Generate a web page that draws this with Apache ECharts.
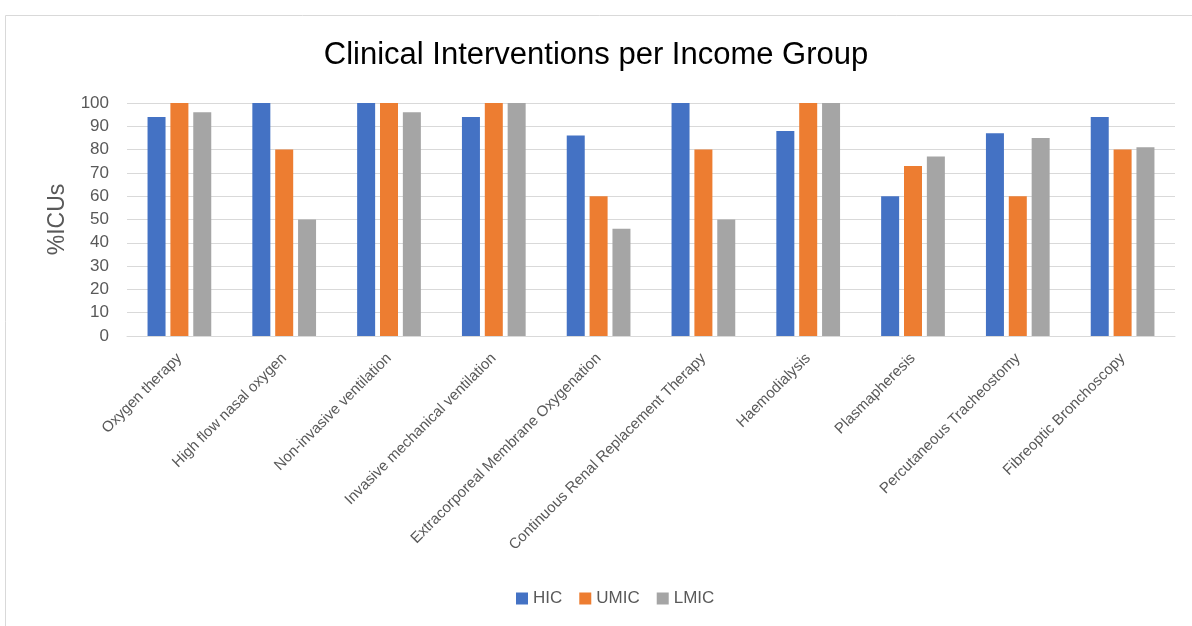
<!DOCTYPE html>
<html>
<head>
<meta charset="utf-8">
<script src="https://cdn.jsdelivr.net/npm/echarts@6/dist/echarts.min.js"></script>
<style>
  html, body { margin: 0; padding: 0; background: #ffffff; }
  #chart { width: 1192px; height: 626px; }
</style>
</head>
<body>
<div id="chart"></div>
<script>
const categories = [
  "Oxygen therapy",
  "High flow nasal oxygen",
  "Non-invasive ventilation",
  "Invasive mechanical ventilation",
  "Extracorporeal Membrane Oxygenation",
  "Continuous Renal Replacement Therapy",
  "Haemodialysis",
  "Plasmapheresis",
  "Percutaneous Tracheostomy",
  "Fibreoptic Bronchoscopy"
];
const seriesNames = ["HIC", "UMIC", "LMIC"];
const hic  = [94, 100, 100, 94, 86, 100, 88, 60, 87, 94];
const umic = [100, 80, 100, 100, 60, 80, 100, 73, 60, 80];
const lmic = [96, 50, 96, 100, 46, 50, 100, 77, 85, 81];
const colors = ["#4472C4", "#ED7D31", "#A5A5A5"];

const font = "'Liberation Sans', Arial, sans-serif";
const chart = echarts.init(document.getElementById('chart'), null, { renderer: 'canvas' });
const mk = (name, data, color) => ({
  name, type: 'bar', data, barWidth: 18, barGap: '27%',
  itemStyle: { color }
});
chart.setOption({
  animation: false,
  graphic: [{
    type: 'rect', left: 3, top: 13,
    shape: { width: 1200, height: 700 },
    style: { fill: 'none', stroke: '#d9d9d9', lineWidth: 1 },
    silent: true, z: -1
  }],
  title: {
    text: 'Clinical Interventions per Income Group',
    left: 'center', top: 35,
    textStyle: { fontFamily: font, fontSize: 31, fontWeight: 'normal', color: '#000000' }
  },
  legend: {
    data: seriesNames, bottom: 14, left: 511,
    itemWidth: 12, itemHeight: 12, itemGap: 17,
    icon: 'rect',
    textStyle: { fontFamily: font, fontSize: 17, color: '#595959' }
  },
  grid: { left: 127, right: 17, top: 103, bottom: 290, containLabel: false },
  xAxis: {
    type: 'category', data: categories,
    axisLine: { lineStyle: { color: '#d9d9d9' } },
    axisTick: { show: false },
    axisLabel: { rotate: 45, interval: 0, margin: 20, fontFamily: font, fontSize: 15, color: '#595959' }
  },
  yAxis: {
    type: 'value', min: 0, max: 100, interval: 10,
    name: '%ICUs', nameLocation: 'middle', nameGap: 58,
    nameTextStyle: { fontFamily: font, fontSize: 23, color: '#595959' },
    axisLine: { show: false }, axisTick: { show: false },
    splitLine: { lineStyle: { color: '#d9d9d9' } },
    axisLabel: { margin: 18, fontFamily: font, fontSize: 17, color: '#595959' }
  },
  series: [mk(seriesNames[0], hic, colors[0]), mk(seriesNames[1], umic, colors[1]), mk(seriesNames[2], lmic, colors[2])]
});
</script>
</body>
</html>
